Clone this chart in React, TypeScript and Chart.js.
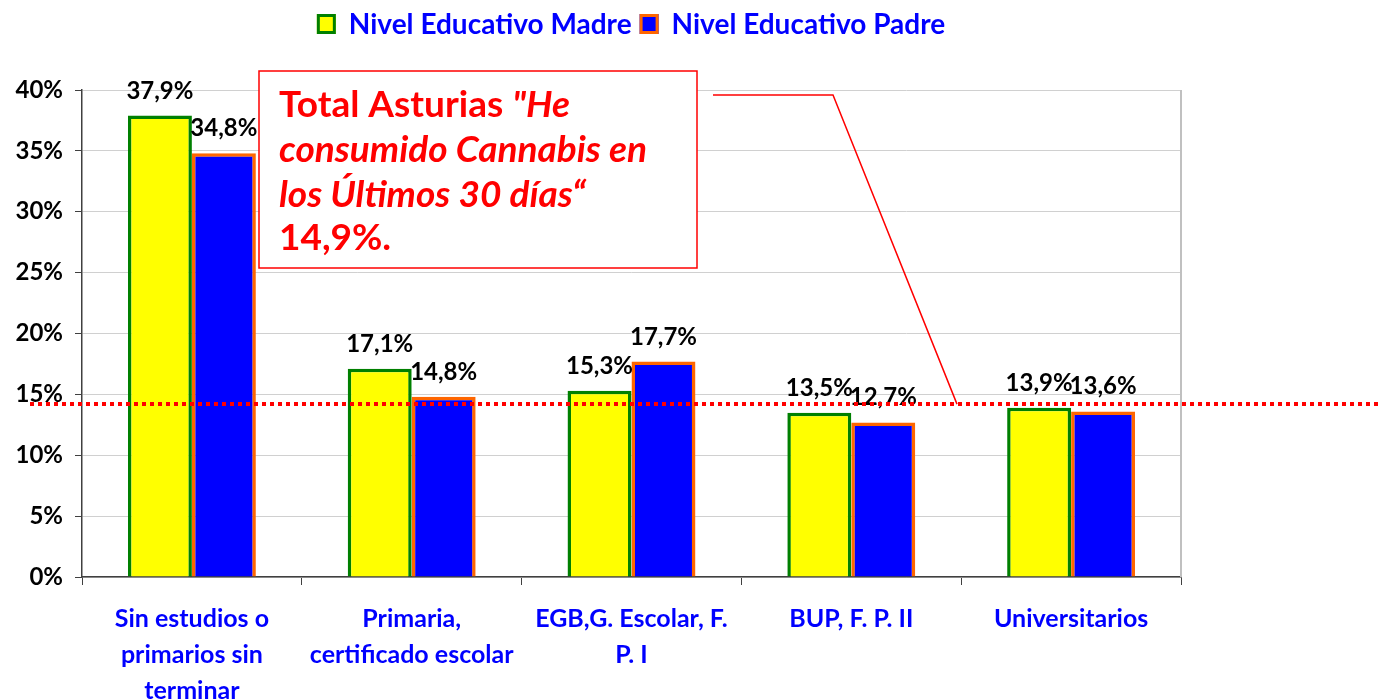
import React, { useEffect, useRef } from "react";
import { Chart, registerables } from "chart.js";

Chart.register(...registerables);

const categories: string[][] = [
  ["Sin estudios o", "primarios sin", "terminar"],
  ["Primaria,", "certificado escolar"],
  ["EGB,G. Escolar, F.", "P. I"],
  ["BUP, F. P. II"],
  ["Universitarios"],
];
const madreValues = [37.9, 17.1, 15.3, 13.5, 13.9];
const padreValues = [34.8, 14.8, 17.7, 12.7, 13.6];
const seriesLabels = ["Nivel Educativo Madre", "Nivel Educativo Padre"];
const yTicks = [0, 5, 10, 15, 20, 25, 30, 35, 40];
const totalLineValue = 14.2;
const calloutLines = [
  [{ t: "Total Asturias ", i: false }, { t: "\"He", i: true }],
  [{ t: "consumido Cannabis en", i: true }],
  [{ t: "los Últimos 30 días“", i: true }],
  [{ t: "14,9%.", i: false }],
];

const FONT = "Lato, 'Open Sans', sans-serif";
const BLUE_TEXT = "#0000ff";

const fmt = (v: number) => v.toFixed(1).replace(".", ",") + "%";

const overlayPlugin = {
  id: "overlay",
  beforeDatasetsDraw(chart: any) {
    const { ctx, chartArea } = chart;
    ctx.save();
    ctx.strokeStyle = "#c0c0c0";
    ctx.lineWidth = 2;
    ctx.beginPath();
    ctx.moveTo(chartArea.right, chartArea.top);
    ctx.lineTo(chartArea.right, chartArea.bottom);
    ctx.stroke();
    ctx.restore();
  },
  afterDatasetsDraw(chart: any) {
    const { ctx } = chart;
    const yScale = chart.scales.y;
    ctx.save();
    // data labels
    ctx.font = `bold 24px ${FONT}`;
    ctx.fillStyle = "#000";
    ctx.textAlign = "center";
    ctx.textBaseline = "alphabetic";
    chart.data.datasets.forEach((ds: any, di: number) => {
      const meta = chart.getDatasetMeta(di);
      meta.data.forEach((el: any, i: number) => {
        ctx.fillText(fmt(ds.data[i]), el.x, el.y - 17);
      });
    });
    // dotted total line
    const yy = yScale.getPixelForValue(totalLineValue);
    ctx.strokeStyle = "#ff0000";
    ctx.lineWidth = 4;
    ctx.setLineDash([4, 4]);
    ctx.beginPath();
    ctx.moveTo(30, yy);
    ctx.lineTo(chart.width, yy);
    ctx.stroke();
    ctx.setLineDash([]);
    // connector
    ctx.lineWidth = 1.5;
    ctx.beginPath();
    ctx.moveTo(713, 95);
    ctx.lineTo(833, 95);
    ctx.lineTo(957, yy);
    ctx.stroke();
    // callout box
    ctx.fillStyle = "#fff";
    ctx.fillRect(259, 71, 438, 197);
    ctx.strokeStyle = "#ff0000";
    ctx.lineWidth = 1.5;
    ctx.strokeRect(259, 71, 438, 197);
    ctx.fillStyle = "#ff0000";
    ctx.textAlign = "left";
    const baselines = [117, 162, 207, 250];
    calloutLines.forEach((line, li) => {
      let x = 279;
      line.forEach((seg) => {
        ctx.font = `${seg.i ? "italic " : ""}bold 37px ${FONT}`;
        ctx.fillText(seg.t, x, baselines[li]);
        x += ctx.measureText(seg.t).width;
      });
    });
    ctx.restore();
  },
  afterDraw(chart: any) {
    const { ctx } = chart;
    ctx.save();
    ctx.font = `bold 28px ${FONT}`;
    const boxW = 19;
    const boxH = 20;
    const gapBoxText = 13;
    const gapItems = 8;
    const widths = seriesLabels.map((l) => ctx.measureText(l).width);
    const total = widths.reduce((a, w) => a + boxW + gapBoxText + w, 0) + gapItems;
    let x = 631 - total / 2;
    const cy = 24;
    chart.data.datasets.forEach((ds: any, i: number) => {
      ctx.fillStyle = ds.backgroundColor;
      ctx.fillRect(x, cy - boxH / 2, boxW, boxH);
      ctx.strokeStyle = ds.borderColor;
      ctx.lineWidth = 3;
      ctx.strokeRect(x + 1.5, cy - boxH / 2 + 1.5, boxW - 3, boxH - 3);
      x += boxW + gapBoxText;
      ctx.fillStyle = BLUE_TEXT;
      ctx.textAlign = "left";
      ctx.textBaseline = "middle";
      ctx.fillText(ds.label, x, cy + 1);
      x += widths[i] + gapItems;
    });
    ctx.restore();
  },
};

export default function App() {
  const ref = useRef<HTMLCanvasElement | null>(null);
  useEffect(() => {
    document.body.style.margin = "0";
    if (!ref.current) return;
    const chart = new Chart(ref.current, {
      type: "bar",
      data: {
        labels: categories,
        datasets: [
          {
            label: seriesLabels[0],
            data: madreValues,
            backgroundColor: "#ffff00",
            borderColor: "#008000",
            borderWidth: 3.5,
            categoryPercentage: 0.582,
            barPercentage: 1,
          },
          {
            label: seriesLabels[1],
            data: padreValues,
            backgroundColor: "#0000ff",
            borderColor: "#ff6600",
            borderWidth: 3.5,
            categoryPercentage: 0.582,
            barPercentage: 1,
          },
        ],
      },
      options: {
        responsive: false,
        animation: false,
        layout: { padding: { top: 90, right: 197, left: 0, bottom: 0 } },
        plugins: { legend: { display: false }, tooltip: { enabled: false } },
        scales: {
          x: {
            offset: true,
            grid: {
              offset: true,
              drawOnChartArea: false,
              tickLength: 8,
              tickColor: "#404040",
            },
            border: { color: "#404040", width: 1.5 },
            ticks: {
              color: BLUE_TEXT,
              font: { family: FONT, size: 25, weight: "bold", lineHeight: 1.44 },
              maxRotation: 0,
              autoSkip: false,
              padding: 16,
            },
            afterFit: (s: any) => {
              s.height = 122;
            },
          },
          y: {
            min: 0,
            max: 40,
            afterBuildTicks: (s: any) => {
              s.ticks = yTicks.map((v) => ({ value: v }));
            },
            grid: { color: "#d0d0d0", tickLength: 7, tickColor: "#404040" },
            border: { color: "#404040", width: 1.5 },
            ticks: {
              color: "#000",
              font: { family: FONT, size: 24, weight: "bold" },
              padding: 12,
              callback: (v: any) => v + "%",
            },
            afterFit: (s: any) => {
              s.width = 82;
            },
          },
        },
      },
      plugins: [overlayPlugin],
    });
    return () => chart.destroy();
  }, []);
  return (
    <div style={{ position: "fixed", left: 0, top: 0, width: 1378, height: 699, background: "#fff" }}>
      <canvas ref={ref} width={1378} height={699} />
    </div>
  );
}
